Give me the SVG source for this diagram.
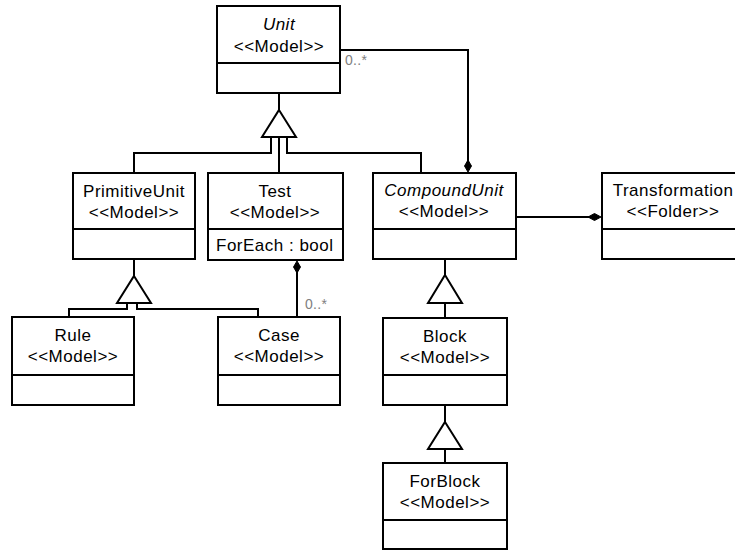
<svg xmlns="http://www.w3.org/2000/svg" width="735" height="550" viewBox="0 0 735 550">
  <style>
    .box { fill: #ffffff; stroke: #000000; stroke-width: 2; }
    .div { stroke: #000000; stroke-width: 2; }
    .name { font-family: "Liberation Sans", Arial, sans-serif; font-size: 17px; letter-spacing: 0.5px; text-anchor: middle; fill: #000000; }
    .abstract { font-style: italic; }
    .attr { font-family: "Liberation Sans", Arial, sans-serif; font-size: 17px; letter-spacing: 0.5px; fill: #000000; }
    .wire { fill: none; stroke: #000000; stroke-width: 2; }
    .gen { fill: #ffffff; stroke: #000000; stroke-width: 2; stroke-linejoin: miter; }
    .comp { fill: #000000; stroke: #000000; stroke-width: 1; }
    .mult { font-family: "Liberation Sans", Arial, sans-serif; font-size: 14px; letter-spacing: 0.3px; fill: #808080; }
  </style>

  <rect width="735" height="550" fill="#ffffff"/>

  <g id="connectors">
    <!-- Unit generalization -->
    <path class="wire" d="M279,93 V110"/>
    <path class="wire" d="M271,137 V153 H134 V173"/>
    <path class="wire" d="M279,137 V173"/>
    <path class="wire" d="M287,137 V153 H421 V173"/>
    <polygon class="gen" points="279,110 296,137 262,137"/>

    <!-- Unit composed in CompoundUnit -->
    <path class="wire" d="M340,50 H468 V166"/>
    <polygon class="comp" points="468,172 471.5,166 468,160 464.5,166"/>
    <text class="mult" x="345" y="65">0..*</text>

    <!-- Case composed in Test -->
    <path class="wire" d="M297,268 V317"/>
    <polygon class="comp" points="297,261 300.5,267 297,273 293.5,267"/>
    <text class="mult" x="305" y="309">0..*</text>

    <!-- CompoundUnit composed in Transformation -->
    <path class="wire" d="M516,217 H594"/>
    <polygon class="comp" points="601,217 594.5,213.5 588,217 594.5,220.5"/>

    <!-- PrimitiveUnit generalization -->
    <path class="wire" d="M134,259 V276"/>
    <path class="wire" d="M127,303 V309 H69 V317"/>
    <path class="wire" d="M137,303 V309 H258 V317"/>
    <polygon class="gen" points="134,276 151,303 117,303"/>

    <!-- CompoundUnit generalization -->
    <path class="wire" d="M445,259 V275"/>
    <path class="wire" d="M445,303 V318"/>
    <polygon class="gen" points="445,275 462,303 428,303"/>

    <!-- Block generalization -->
    <path class="wire" d="M445,405 V422"/>
    <path class="wire" d="M445,449 V463"/>
    <polygon class="gen" points="445,422 462,449 428,449"/>
  </g>

  <g id="unit">
    <rect class="box" x="217" y="6" width="123" height="87"/>
    <line class="div" x1="217" y1="63" x2="340" y2="63"/>
    <text class="name abstract" x="279" y="30">Unit</text>
    <text class="name" x="279" y="52">&lt;&lt;Model&gt;&gt;</text>
  </g>

  <g id="primitive-unit">
    <rect class="box" x="73" y="173" width="122" height="86"/>
    <line class="div" x1="73" y1="229" x2="195" y2="229"/>
    <text class="name" x="134" y="197">PrimitiveUnit</text>
    <text class="name" x="134" y="218">&lt;&lt;Model&gt;&gt;</text>
  </g>

  <g id="test">
    <rect class="box" x="208" y="173" width="135" height="87"/>
    <line class="div" x1="208" y1="229" x2="343" y2="229"/>
    <text class="name" x="275" y="197">Test</text>
    <text class="name" x="275" y="218">&lt;&lt;Model&gt;&gt;</text>
    <text class="attr" x="216" y="251">ForEach : bool</text>
  </g>

  <g id="compound-unit">
    <rect class="box" x="373" y="173" width="143" height="86"/>
    <line class="div" x1="373" y1="229" x2="516" y2="229"/>
    <text class="name abstract" x="444" y="196">CompoundUnit</text>
    <text class="name" x="444" y="217">&lt;&lt;Model&gt;&gt;</text>
  </g>

  <g id="transformation">
    <rect class="box" x="602" y="173" width="142" height="86"/>
    <line class="div" x1="602" y1="229" x2="744" y2="229"/>
    <text class="name" x="673" y="196">Transformation</text>
    <text class="name" x="673" y="217">&lt;&lt;Folder&gt;&gt;</text>
  </g>

  <g id="rule">
    <rect class="box" x="12" y="317" width="122" height="88"/>
    <line class="div" x1="12" y1="375" x2="134" y2="375"/>
    <text class="name" x="73" y="341">Rule</text>
    <text class="name" x="73" y="362">&lt;&lt;Model&gt;&gt;</text>
  </g>

  <g id="case">
    <rect class="box" x="218" y="317" width="122" height="88"/>
    <line class="div" x1="218" y1="375" x2="340" y2="375"/>
    <text class="name" x="279" y="341">Case</text>
    <text class="name" x="279" y="362">&lt;&lt;Model&gt;&gt;</text>
  </g>

  <g id="block">
    <rect class="box" x="383" y="318" width="124" height="87"/>
    <line class="div" x1="383" y1="375" x2="507" y2="375"/>
    <text class="name" x="445" y="342">Block</text>
    <text class="name" x="445" y="363">&lt;&lt;Model&gt;&gt;</text>
  </g>

  <g id="for-block">
    <rect class="box" x="383" y="463" width="124" height="86"/>
    <line class="div" x1="383" y1="520" x2="507" y2="520"/>
    <text class="name" x="445" y="487">ForBlock</text>
    <text class="name" x="445" y="508">&lt;&lt;Model&gt;&gt;</text>
  </g>
</svg>
